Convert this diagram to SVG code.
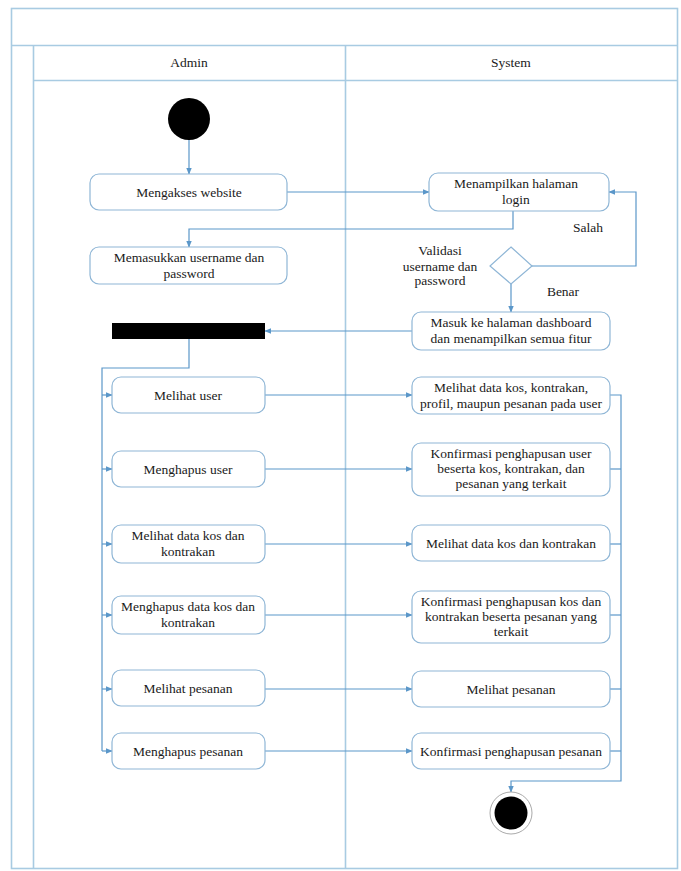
<svg xmlns="http://www.w3.org/2000/svg" width="681" height="871" viewBox="0 0 681 871" font-family="'Liberation Serif', 'DejaVu Serif', 'Times New Roman', serif">
<defs>
<style>
.frame{fill:none;stroke:#a8cbe2;stroke-width:1.6}
.act{fill:#fff;stroke:#8fb6d6;stroke-width:1.2}
.ln{fill:none;stroke:#5b97c9;stroke-width:1.2}
text{font-family:'Liberation Serif','DejaVu Serif','Times New Roman',serif;font-size:13.5px;fill:#1a1a1a;text-anchor:middle}
</style>
<marker id="ah" viewBox="0 0 10 10" refX="9" refY="5" markerWidth="7" markerHeight="7" orient="auto" markerUnits="userSpaceOnUse">
<path d="M0,1 L10,5 L0,9 z" fill="#5b97c9"/>
</marker>
</defs>
<rect width="681" height="871" fill="#fff"/>
<g id="frame">
<rect class="frame" x="11.5" y="8.5" width="666" height="860"/>
<line class="frame" x1="11.5" y1="45.5" x2="677.5" y2="45.5"/>
<line class="frame" x1="33.5" y1="45.5" x2="33.5" y2="868.5"/>
<line class="frame" x1="33.5" y1="80.5" x2="677.5" y2="80.5"/>
<line class="frame" x1="345.5" y1="45.5" x2="345.5" y2="868.5"/>
<text x="189" y="67">Admin</text>
<text x="511" y="67">System</text>
</g>
<g id="connectors">
<line class="ln" x1="189" y1="140" x2="189" y2="174" marker-end="url(#ah)"/>
<line class="ln" x1="287" y1="192" x2="429" y2="192" marker-end="url(#ah)"/>
<polyline class="ln" points="513,211 513,229 189,229 189,247" marker-end="url(#ah)"/>
<polyline class="ln" points="532,266 636,266 636,192 609,192" marker-end="url(#ah)"/>
<line class="ln" x1="511" y1="284" x2="511" y2="312" marker-end="url(#ah)"/>
<line class="ln" x1="412" y1="331" x2="265" y2="331" marker-end="url(#ah)"/>
<polyline class="ln" points="189,339 189,368 102,368 102,751"/>
<line class="ln" x1="102" y1="395" x2="112" y2="395" marker-end="url(#ah)"/>
<line class="ln" x1="102" y1="469" x2="112" y2="469" marker-end="url(#ah)"/>
<line class="ln" x1="102" y1="544" x2="112" y2="544" marker-end="url(#ah)"/>
<line class="ln" x1="102" y1="615" x2="112" y2="615" marker-end="url(#ah)"/>
<line class="ln" x1="102" y1="689" x2="112" y2="689" marker-end="url(#ah)"/>
<line class="ln" x1="102" y1="751" x2="112" y2="751" marker-end="url(#ah)"/>
<line class="ln" x1="265" y1="395" x2="412" y2="395" marker-end="url(#ah)"/>
<line class="ln" x1="265" y1="469" x2="412" y2="469" marker-end="url(#ah)"/>
<line class="ln" x1="265" y1="544" x2="412" y2="544" marker-end="url(#ah)"/>
<line class="ln" x1="265" y1="615" x2="412" y2="615" marker-end="url(#ah)"/>
<line class="ln" x1="265" y1="689" x2="412" y2="689" marker-end="url(#ah)"/>
<line class="ln" x1="265" y1="751" x2="412" y2="751" marker-end="url(#ah)"/>
<polyline class="ln" points="610,395 621,395 621,781 511,781 511,792" marker-end="url(#ah)"/>
<line class="ln" x1="610" y1="469" x2="621" y2="469"/>
<line class="ln" x1="610" y1="544" x2="621" y2="544"/>
<line class="ln" x1="610" y1="615" x2="621" y2="615"/>
<line class="ln" x1="610" y1="689" x2="621" y2="689"/>
<line class="ln" x1="610" y1="751" x2="621" y2="751"/>
<text x="588" y="232">Salah</text>
<text x="563" y="296">Benar</text>
</g>
<g id="start"><circle cx="189" cy="119" r="21" fill="#000"/></g>
<g id="mengakses"><rect class="act" x="90" y="174" width="197" height="36" rx="9"/><text x="189" y="197">Mengakses website</text></g>
<g id="menampilkan-login"><rect class="act" x="429" y="173" width="180" height="38" rx="9"/><text x="516" y="188">Menampilkan halaman</text><text x="516" y="204">login</text></g>
<g id="memasukkan"><rect class="act" x="90" y="247" width="197" height="37" rx="9"/><text x="189" y="262">Memasukkan username dan</text><text x="189" y="278">password</text></g>
<g id="validasi"><polygon points="511,247 532,266 511,284 490,266" fill="#fff" stroke="#8fb6d6" stroke-width="1.2"/><text x="440" y="255">Validasi</text><text x="440" y="271">username dan</text><text x="440" y="285">password</text></g>
<g id="dashboard"><rect class="act" x="412" y="312" width="198" height="38" rx="9"/><text x="511" y="327">Masuk ke halaman dashboard</text><text x="511" y="343">dan menampilkan semua fitur</text></g>
<g id="fork"><rect x="112" y="323" width="153" height="16" fill="#000"/></g>
<g id="a-melihat-user"><rect class="act" x="112" y="377" width="153" height="36" rx="9"/><text x="188" y="400">Melihat user</text></g>
<g id="a-menghapus-user"><rect class="act" x="112" y="451" width="153" height="36" rx="9"/><text x="188" y="474">Menghapus user</text></g>
<g id="a-melihat-kos"><rect class="act" x="112" y="525" width="153" height="38" rx="9"/><text x="188" y="540">Melihat data kos dan</text><text x="188" y="556">kontrakan</text></g>
<g id="a-menghapus-kos"><rect class="act" x="112" y="596" width="153" height="38" rx="9"/><text x="188" y="611">Menghapus data kos dan</text><text x="188" y="627">kontrakan</text></g>
<g id="a-melihat-pesanan"><rect class="act" x="112" y="670" width="153" height="36" rx="9"/><text x="188" y="693">Melihat pesanan</text></g>
<g id="a-menghapus-pesanan"><rect class="act" x="112" y="733" width="153" height="36" rx="9"/><text x="188" y="756">Menghapus pesanan</text></g>
<g id="s-melihat-user"><rect class="act" x="412" y="377" width="198" height="37" rx="9"/><text x="511" y="392">Melihat data kos, kontrakan,</text><text x="511" y="408">profil, maupun pesanan pada user</text></g>
<g id="s-konfirmasi-user"><rect class="act" x="412" y="443" width="198" height="53" rx="9"/><text x="511" y="458">Konfirmasi penghapusan user</text><text x="511" y="473">beserta kos, kontrakan, dan</text><text x="511" y="488">pesanan yang terkait</text></g>
<g id="s-melihat-kos"><rect class="act" x="412" y="525" width="198" height="36" rx="9"/><text x="511" y="548">Melihat data kos dan kontrakan</text></g>
<g id="s-konfirmasi-kos"><rect class="act" x="412" y="591" width="198" height="52" rx="9"/><text x="511" y="606">Konfirmasi penghapusan kos dan</text><text x="511" y="621">kontrakan beserta pesanan yang</text><text x="511" y="636">terkait</text></g>
<g id="s-melihat-pesanan"><rect class="act" x="412" y="671" width="198" height="36" rx="9"/><text x="511" y="694">Melihat pesanan</text></g>
<g id="s-konfirmasi-pesanan"><rect class="act" x="412" y="733" width="198" height="36" rx="9"/><text x="511" y="756">Konfirmasi penghapusan pesanan</text></g>
<g id="end"><circle cx="511" cy="813" r="21" fill="#fff" stroke="#aaa" stroke-width="1"/><circle cx="511" cy="813" r="16.5" fill="#000"/></g>
</svg>
